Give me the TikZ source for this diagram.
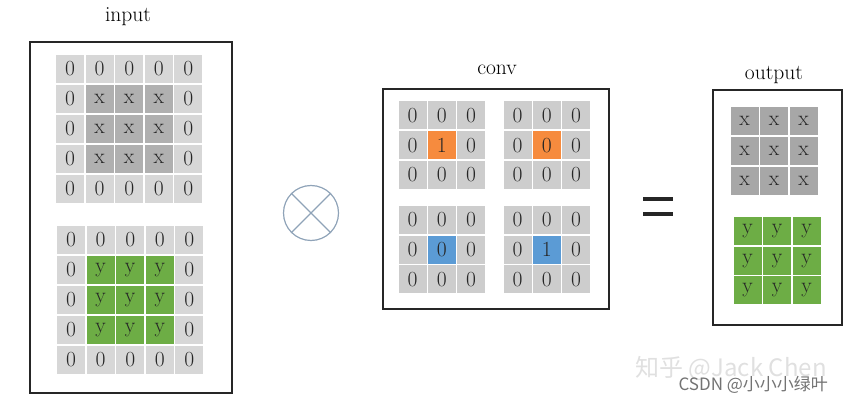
\documentclass[tikz,border=0pt]{standalone}
\usepackage{fontspec}
\newfontfamily\cjk{Noto Sans CJK SC}
\definecolor{zerogray}{HTML}{D7D7D7}
\definecolor{xgray}{HTML}{B0B0B0}
\definecolor{kgray}{HTML}{CDCDCD}
\definecolor{outgray}{HTML}{A7A7A7}
\definecolor{ygreen}{HTML}{6DAD45}
\definecolor{korange}{HTML}{F68B3E}
\definecolor{kblue}{HTML}{5B9BD5}
\definecolor{opblue}{HTML}{8FA3B8}
\tikzset{
  cell/.style={minimum size=28pt, inner sep=0pt, text=black!85,
    font=\fontsize{21.5}{24}\selectfont},
  title/.style={font=\fontsize{21.5}{24}\selectfont},
  frame/.style={line width=2.5pt, draw=black!85}
}

\begin{document}
\begin{tikzpicture}[x=1pt,y=-1pt]
\useasboundingbox (0,0) rectangle (864,403);

\node[title] (input) at (128,17) {input};
\node[title] (conv) at (497,70) {conv};
\node[title] (output) at (774,75) {output};
\draw[frame] (30,42) rectangle (232,393);
\draw[frame] (383,89) rectangle (609,309);
\draw[frame] (713,90) rectangle (842,325);

\foreach \r in {0,...,4}
  \foreach \c in {0,...,4}{
    \pgfmathtruncatemacro\inside{and(and(\r>0,\r<4),and(\c>0,\c<4))}
    \ifnum\inside=1
      \node[cell,fill=xgray] (inx-\r-\c) at (70+29.6*\c,69+30*\r) {x};
      \node[cell,fill=ygreen] (iny-\r-\c) at (71+29.6*\c,240+30*\r) {y};
    \else
      \node[cell,fill=zerogray] (inx-\r-\c) at (70+29.6*\c,69+30*\r) {0};
      \node[cell,fill=zerogray] (iny-\r-\c) at (71+29.6*\c,240+30*\r) {0};
    \fi
  }

\foreach \k/\ox/\oy/\mid/\v in {a/412.5/115.5/korange/1, b/517.5/115.5/korange/0,
                                c/412.5/220/kblue/0, d/517.5/220/kblue/1}
  \foreach \r in {0,1,2}
    \foreach \c in {0,1,2}{
      \pgfmathtruncatemacro\centre{and(\r==1,\c==1)}
      \ifnum\centre=1
        \node[cell,fill=\mid] (k\k-\r-\c) at (\ox+29.3*\c,\oy+29.7*\r) {\v};
      \else
        \node[cell,fill=kgray] (k\k-\r-\c) at (\ox+29.3*\c,\oy+29.7*\r) {0};
      \fi
    }

\foreach \r in {0,1,2}
  \foreach \c in {0,1,2}{
    \node[cell,fill=outgray] (outx-\r-\c) at (744.5+29.5*\c,121+30*\r) {x};
    \node[cell,fill=ygreen] (outy-\r-\c) at (747.5+29.5*\c,231+29.7*\r) {y};
  }

\node[circle, draw=opblue, line width=1.2pt, minimum size=55pt, inner sep=0pt] (times) at (311,213) {};
\draw[opblue, line width=1.2pt] (times.north west) -- (times.south east)
  (times.north east) -- (times.south west);

\draw[line width=3.5pt, black!85] (643,199) -- (673,199) (643,214) -- (673,214);

\node[anchor=west, text=black!12, font=\cjk\fontsize{24}{26}\selectfont] (zhihu) at (632,368) {知乎 @Jack Chen};
\node[anchor=west, text=black!55, font=\cjk\fontsize{17}{19}\selectfont] (csdn) at (675,385) {CSDN @小小小绿叶};
\end{tikzpicture}
\end{document}
